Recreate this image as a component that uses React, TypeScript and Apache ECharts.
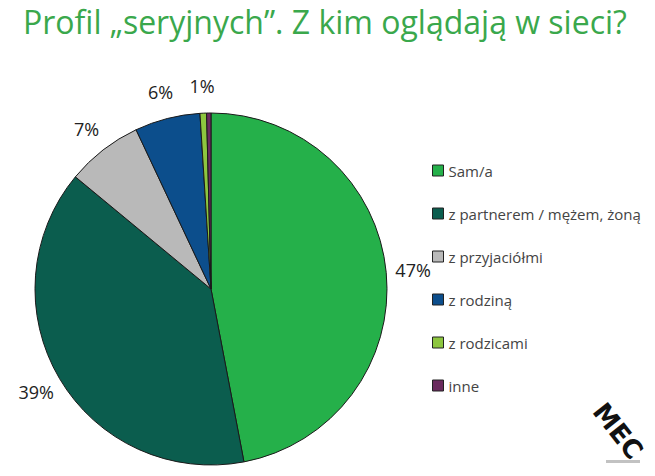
import React, { useEffect, useRef } from "react";
import * as echarts from "echarts";

const titleText = "Profil „seryjnych”. Z kim oglądają w sieci?";
const categories = ["Sam/a", "z partnerem / mężem, żoną", "z przyjaciółmi", "z rodziną", "z rodzicami", "inne"];
const values = [47, 39, 7, 6, 0.6, 0.4];
const showLabel = [true, true, true, true, true, false];
const colors = ["#25b04a", "#0b5d4e", "#b9b9b9", "#0c4e8c", "#8dc63f", "#6a2a5e"];

export default function App() {
  const ref = useRef<HTMLDivElement>(null);
  useEffect(() => {
    if (!ref.current) return;
    const chart = echarts.init(ref.current, undefined, { renderer: "svg" });
    const data = categories.map((name, i) => ({
      name,
      value: values[i],
      itemStyle: { color: colors[i] },
    }));
    chart.setOption({
      animation: false,
      backgroundColor: "#ffffff",
      title: {
        text: titleText,
        left: 18,
        top: 0,
        textStyle: {
          fontFamily: "Open Sans",
          fontSize: 32,
          fontWeight: "normal",
          color: "#3aa84c",
        },
      },
      legend: {
        orient: "vertical",
        left: 432,
        top: 163,
        padding: 0,
        itemWidth: 11,
        itemHeight: 11,
        itemGap: 28,
        icon: "rect",
        data: categories,
        textStyle: { fontFamily: "Open Sans", fontSize: 15, color: "#444" },
        itemStyle: { borderColor: "#222", borderWidth: 1 },
      },
      graphic: [
        {
          type: "text",
          x: 618,
          y: 431,
          rotation: -0.9,
          style: {
            text: "MEC",
            font: "bold 26px 'DejaVu Sans'",
            fill: "#111",
            align: "center",
            verticalAlign: "middle",
          },
        },
        {
          type: "rect",
          shape: { x: 606, y: 460, width: 34, height: 3 },
          style: { fill: "#999", opacity: 0.6 },
        },
      ],
      series: [
        {
          type: "pie",
          center: [211, 289],
          radius: [0, 176],
          startAngle: 90,
          clockwise: true,
          data,
          label: { show: false },
          labelLine: { show: false },
          itemStyle: { borderColor: "#1a1a1a", borderWidth: 1 },
          emphasis: { disabled: true },
        },
        {
          type: "pie",
          center: [211, 289],
          radius: [176, 224],
          startAngle: 90,
          clockwise: true,
          silent: true,
          legendHoverLink: false,
          data: categories.map((name, i) => ({
            name,
            value: values[i],
            itemStyle: { color: "rgba(0,0,0,0)", borderWidth: 0 },
            label: { show: showLabel[i] },
          })),
          label: {
            position: "inside",
            formatter: (p: any) => `${Math.round(p.value)}%`,
            fontFamily: "Open Sans",
            fontSize: 18,
            color: "#222",
          },
          labelLine: { show: false },
          emphasis: { disabled: true },
        },
      ],
    });
    return () => chart.dispose();
  }, []);
  return (
    <div
      ref={ref}
      style={{ position: "fixed", left: 0, top: 0, width: 655, height: 476 }}
    />
  );
}
